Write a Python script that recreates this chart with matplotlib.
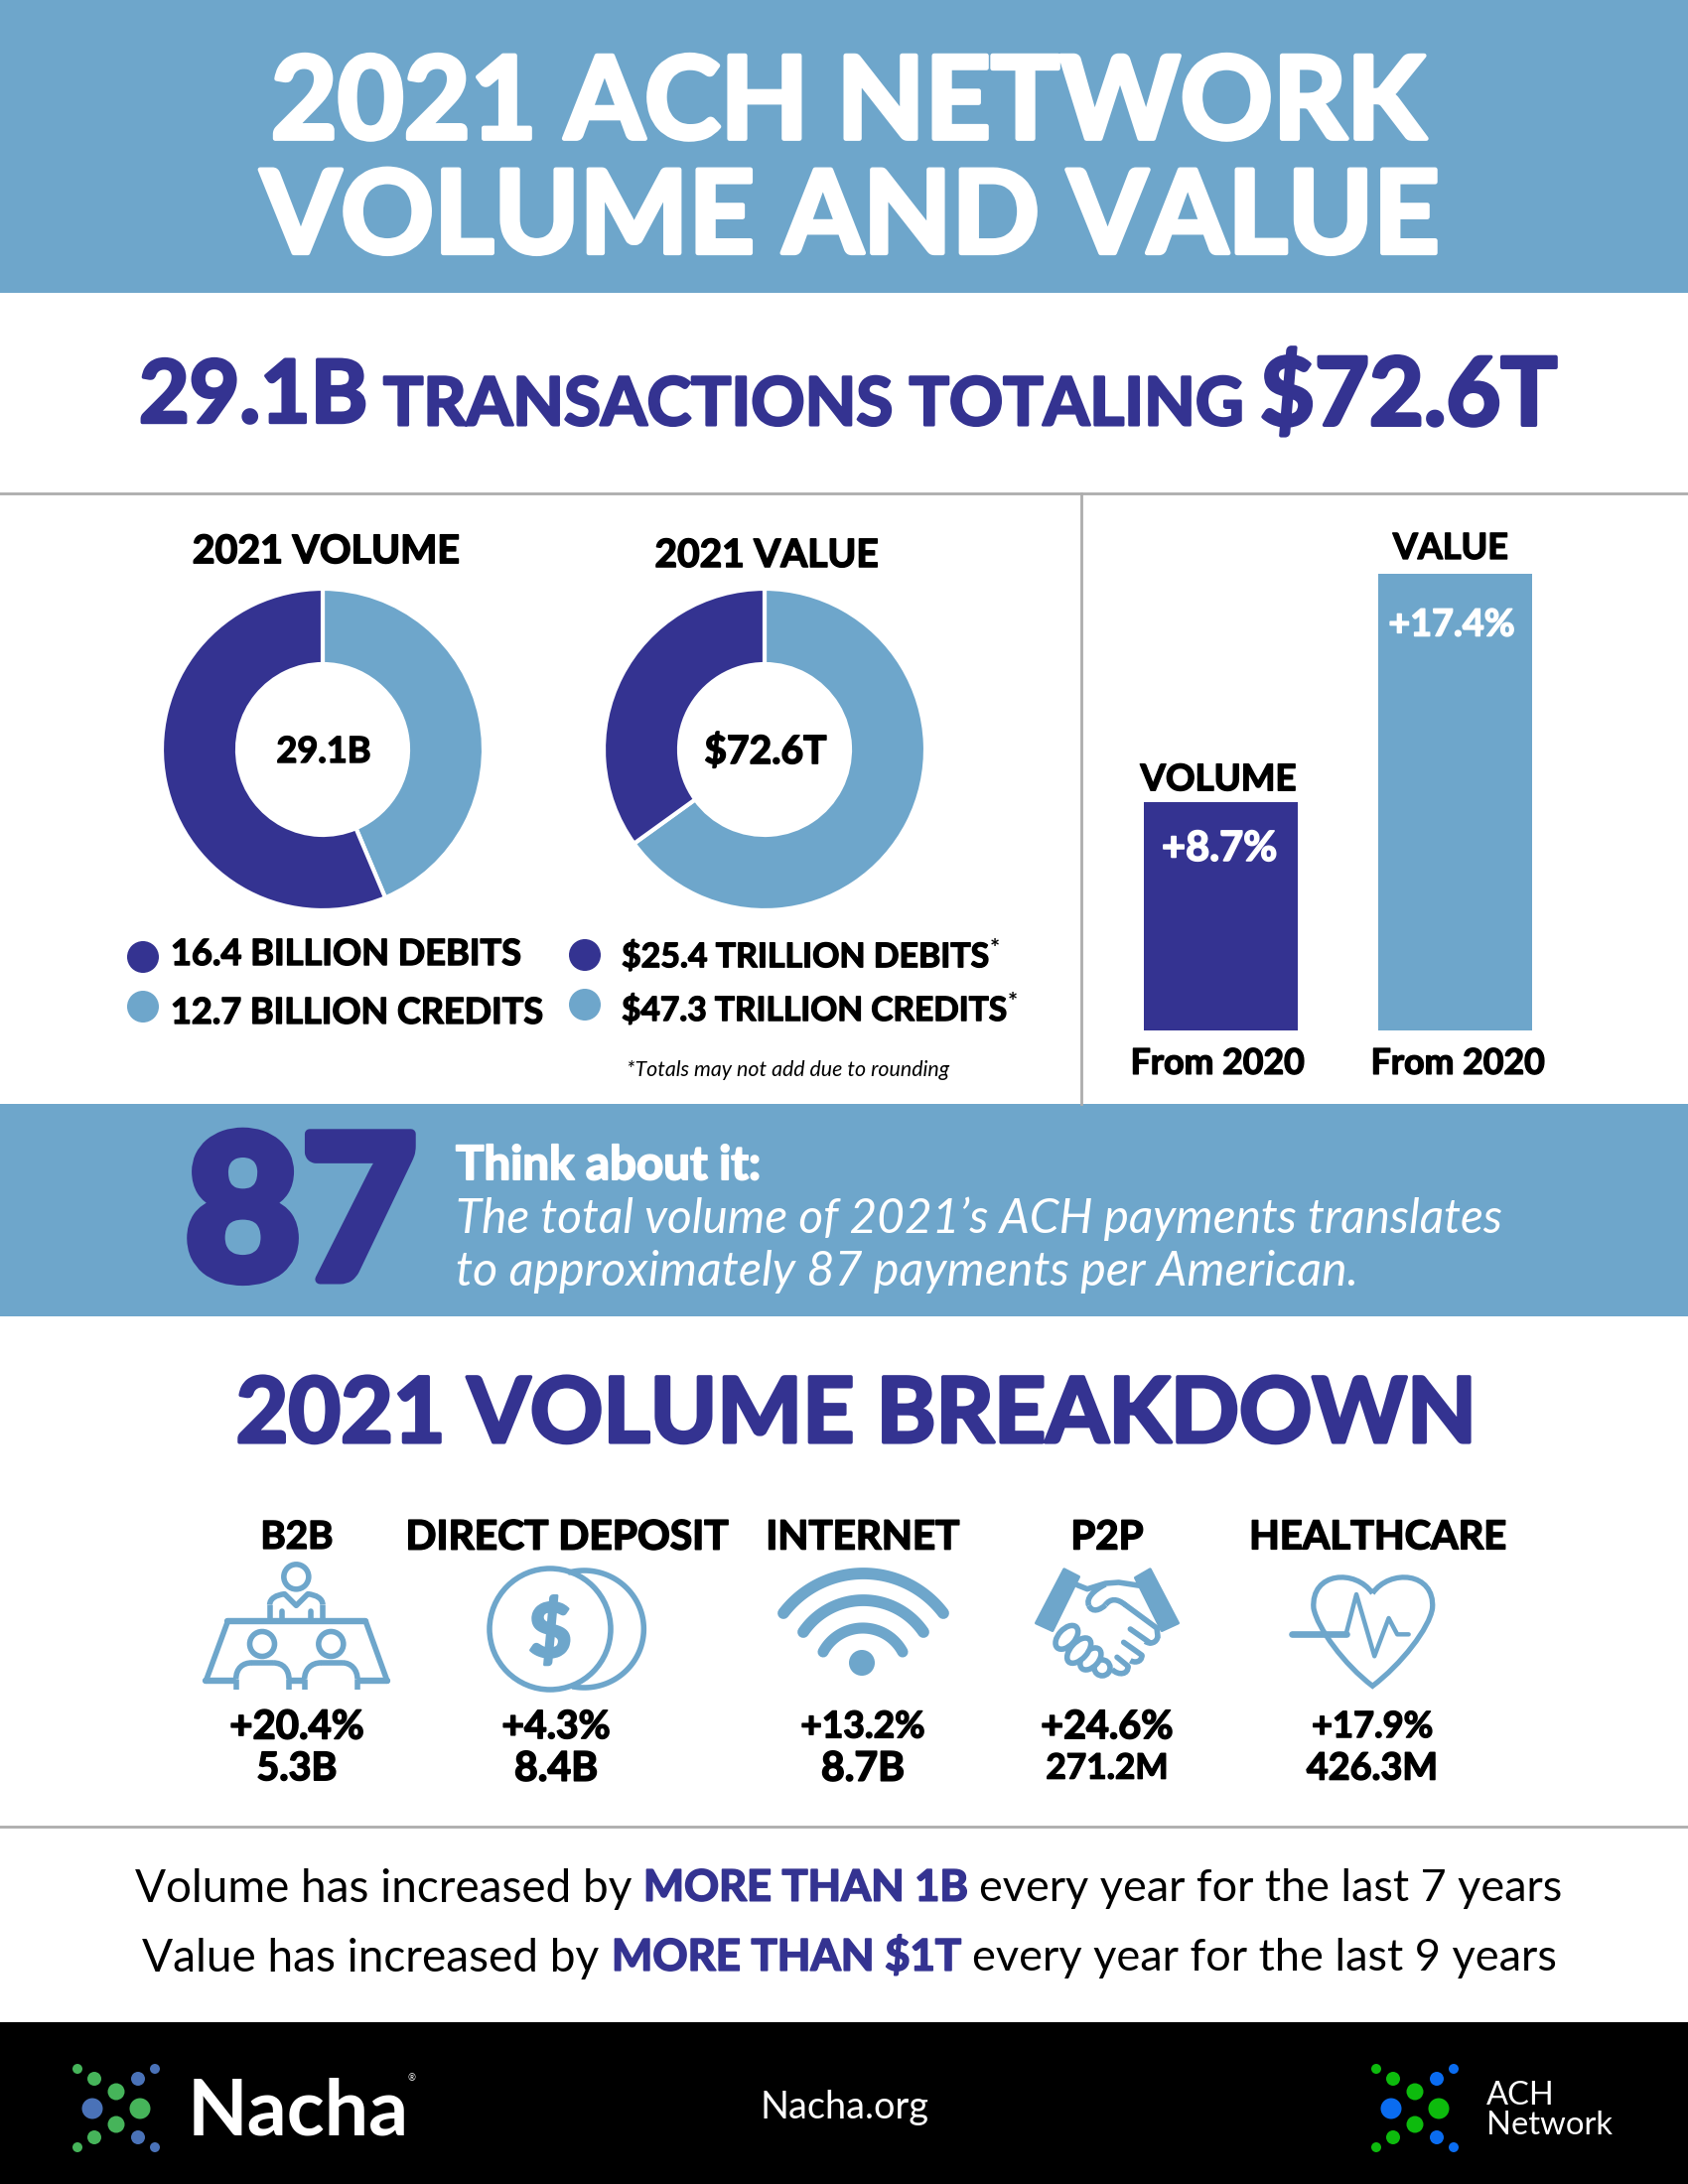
import numpy as np
import matplotlib
matplotlib.use("Agg")
import matplotlib.pyplot as plt
import matplotlib.patheffects as pe
from matplotlib.patches import Rectangle, Ellipse, Polygon, PathPatch
from matplotlib.path import Path

# ---------- data ----------
volume_parts = [12.7, 16.4]      # credits, debits (billion)
value_parts = [47.3, 25.4]       # credits, debits (trillion)
growth_labels = ["VOLUME", "VALUE"]
growth_values = [8.7, 17.4]
breakdown_names = ["B2B", "DIRECT DEPOSIT", "INTERNET", "P2P", "HEALTHCARE"]
breakdown_growth = ["+20.4%", "+4.3%", "+13.2%", "+24.6%", "+17.9%"]
breakdown_totals = ["5.3B", "8.4B", "8.7B", "271.2M", "426.3M"]

BLUE = "#6EA6CB"
NAVY = "#343391"
FONT = "Lato"

fig = plt.figure(figsize=(17, 22), dpi=100, facecolor="white")
ax = fig.add_axes([0, 0, 1, 1], zorder=5)
ax.set_xlim(0, 1700)
ax.set_ylim(2200, 0)
ax.axis("off")
ax.patch.set_alpha(0)
renderer = fig.canvas.get_renderer()


def T(s, x, yc, width, color="black", weight="heavy", ha="center", style="normal", cap=0.72):
    real_weight = "bold" if weight == "heavy" else weight
    t = ax.text(x, yc, s, color=color, fontweight=real_weight, ha=ha, va="baseline",
                fontstyle=style, fontfamily=FONT, fontsize=40)
    w = t.get_window_extent(renderer).width
    fs = 40 * width / w
    t.set_fontsize(fs)
    t.set_y(yc + cap * fs * 100 / 72 / 2)
    if weight == "heavy":
        t.set_path_effects([pe.withStroke(linewidth=fs * 0.04, foreground=color)])
    return t


def pixel_axes(x0, y0, x1, y1):
    return fig.add_axes([x0 / 1700, 1 - y1 / 2200, (x1 - x0) / 1700, (y1 - y0) / 2200])


# ---------- bands ----------
bg = fig.add_axes([0, 0, 1, 1], zorder=0)
bg.set_xlim(0, 1700)
bg.set_ylim(2200, 0)
bg.axis("off")
bg.add_patch(Rectangle((0, 0), 1700, 295, color=BLUE, lw=0))
bg.add_patch(Rectangle((0, 1112), 1700, 214, color=BLUE, lw=0))
bg.add_patch(Rectangle((0, 2037), 1700, 163, color="black", lw=0))
bg.plot([0, 1700], [497, 497], color="#ADADAD", lw=2)
bg.plot([1089, 1089], [497, 1112], color="#ADADAD", lw=2)
bg.plot([0, 1700], [1840, 1840], color="#ADADAD", lw=2)

# ---------- header ----------
T("2021 ACH NETWORK", 854, 98, 1162, "white")
T("VOLUME AND VALUE", 856, 213, 1187, "white")
T("29.1B", 140, 394, 230, NAVY, ha="left")
T("TRANSACTIONS TOTALING", 386, 404, 866, NAVY, ha="left")
T("$72.6T", 1269, 394, 299, NAVY, ha="left")

# ---------- donuts ----------
for (cx, parts, title, tx, ty, tw, center, cw) in [
    (325, volume_parts, "2021 VOLUME", 328, 553, 269, "29.1B", 95),
    (770, value_parts, "2021 VALUE", 772, 557, 225, "$72.6T", 123),
]:
    a = pixel_axes(cx - 162, 755 - 162, cx + 162, 755 + 162)
    a.pie(parts, colors=[BLUE, NAVY], startangle=90, counterclock=False, radius=1,
          wedgeprops=dict(width=76 / 162, edgecolor="white", linewidth=3))
    a.set_xlim(-1, 1)
    a.set_ylim(-1, 1)
    T(title, tx, ty, tw)
    T(center, cx + 1, 755, cw)

# ---------- legends ----------
for (x, y, c) in [(144, 964, NAVY), (144, 1014, BLUE), (589, 962, NAVY), (589, 1012, BLUE)]:
    ax.add_patch(Ellipse((x, y), 32, 32, color=c, lw=0))
T(f"{volume_parts[1]} BILLION DEBITS", 172, 959, 353, ha="left")
T(f"{volume_parts[0]} BILLION CREDITS", 172, 1018, 375, ha="left")
T(f"${value_parts[1]} TRILLION DEBITS", 626, 962, 370, ha="left")
T(f"${value_parts[0]} TRILLION CREDITS", 626, 1016, 388, ha="left")
T("*", 997, 955, 10, ha="left", weight="bold")
T("*", 1015, 1009, 10, ha="left", weight="bold")
T("*Totals may not add due to rounding", 631, 1076, 324, ha="left", weight="normal", style="italic")

# ---------- growth bars ----------
b = pixel_axes(1152, 578, 1543, 1038)
b.bar(range(2), growth_values, width=0.657, color=[NAVY, BLUE])
b.set_xlim(-0.33, 1.33)
b.set_ylim(0, 17.4)
b.axis("off")
T(growth_labels[0], 1227, 783, 157)
T(growth_labels[1], 1461, 550, 116)
T(f"+{growth_values[0]}%", 1228, 852, 116, "white")
T(f"+{growth_values[1]}%", 1462, 627, 127, "white")
T("From 2020", 1226, 1069, 175)
T("From 2020", 1468, 1069, 175)

# ---------- think band ----------
t87 = T("87", 186, 1220, 234, NAVY, weight="black", ha="left", cap=0.68)
t87.set_path_effects([pe.withStroke(linewidth=7, foreground=NAVY)])
T("Think about it:", 459, 1171, 307, "white", ha="left")
T("The total volume of 2021\u2019s ACH payments translates", 459, 1225, 1053, "white",
  ha="left", weight="normal", style="italic")
T("to approximately 87 payments per American.", 459, 1278, 907, "white",
  ha="left", weight="normal", style="italic")

# ---------- breakdown ----------
T("2021 VOLUME BREAKDOWN", 863, 1420, 1249, NAVY)
name_x = [299, 571, 869, 1115, 1388]
name_w = [73, 325, 195, 73, 259]
val_x = [299, 560, 869, 1115, 1382]
growth_w = [135, 109, 125, 133, 122]
total_w = [81, 84, 84, 123, 132]
for i in range(5):
    T(breakdown_names[i], name_x[i], 1546, name_w[i])
    T(breakdown_growth[i], val_x[i], 1737, growth_w[i])
    T(breakdown_totals[i], val_x[i], 1779, total_w[i])


# ---------- icons (crop coordinates at 3x) ----------
def crop(x0, y0):
    return lambda zx, zy: (x0 + zx / 3, y0 + zy / 3)


STROKE = 4.0


def poly(Z, points, lw=STROKE, close=False, cap="round"):
    pts = [Z(*p) for p in points]
    if close:
        pts.append(pts[0])
    xs, ys = zip(*pts)
    ax.plot(xs, ys, color=BLUE, lw=lw, solid_capstyle=cap, solid_joinstyle="round")


def smooth(Z, points, lw=STROKE, cap="butt"):
    pts = [Z(*p) for p in points]
    codes = [Path.MOVETO] + [Path.CURVE4] * (len(pts) - 1)
    ax.add_patch(PathPatch(Path(pts, codes), fc="none", ec=BLUE, lw=lw, capstyle=cap))


def ring(Z, zx, zy, r, lw=STROKE):
    ax.add_patch(Ellipse(Z(zx, zy), 2 * r, 2 * r, fc="white", ec=BLUE, lw=lw))


# B2B table
Z = crop(190, 1560)
ring(Z, 325, 85, 12.5)
poly(Z, [(245, 212), (245, 170)], cap="butt")
smooth(Z, [(245, 170), (245, 150), (265, 140), (290, 137)])
poly(Z, [(290, 137), (325, 172), (360, 137)])
smooth(Z, [(360, 137), (385, 140), (405, 150), (405, 170)])
poly(Z, [(405, 170), (405, 212)], cap="butt")
poly(Z, [(282, 188), (282, 212)])
poly(Z, [(370, 188), (370, 212)])
poly(Z, [(118, 220), (535, 220)], lw=4.6)
poly(Z, [(118, 220), (52, 400)])
poly(Z, [(535, 220), (600, 400)])
poly(Z, [(52, 400), (135, 400)], lw=4.6)
poly(Z, [(515, 400), (600, 400)], lw=4.6)
poly(Z, [(305, 400), (345, 400)], lw=4.6)
ring(Z, 222, 288, 12.5)
ring(Z, 430, 288, 12.5)
poly(Z, [(143, 425), (143, 395)], cap="butt")
smooth(Z, [(143, 395), (143, 360), (165, 345), (190, 345)])
poly(Z, [(190, 345), (255, 345)], cap="butt")
smooth(Z, [(255, 345), (285, 345), (303, 365), (303, 395)])
poly(Z, [(303, 395), (303, 425)], cap="butt")
poly(Z, [(350, 425), (350, 395)], cap="butt")
smooth(Z, [(350, 395), (350, 365), (370, 345), (400, 345)])
poly(Z, [(400, 345), (465, 345)], cap="butt")
smooth(Z, [(465, 345), (490, 345), (510, 365), (510, 395)])
poly(Z, [(510, 395), (510, 425)], cap="butt")

# Coin
Z = crop(480, 1570)
cx0, cy0 = Z(325, 213)
th = np.radians(np.linspace(-103, 99, 80))
ax.plot(cx0 + 60 * np.cos(th), cy0 + 59 * np.sin(th), color=BLUE, lw=STROKE)
ring(Z, 222, 213, 61, lw=STROKE)
t = T("$", 554, 1642, 43, BLUE, weight="black")
t.set_path_effects([pe.withStroke(linewidth=2, foreground=BLUE)])


# Wifi
def arch(x0, x1, ytop, yend, lw):
    half = (x1 - x0) / 2
    sag = yend - ytop
    R = (half ** 2 + sag ** 2) / (2 * sag)
    xc = (x0 + x1) / 2
    a = np.arcsin(half / R)
    ang = np.linspace(-a, a, 80)
    ax.plot(xc + R * np.sin(ang), ytop + R - R * np.cos(ang), color=BLUE, lw=lw, solid_capstyle="round")


arch(789, 950, 1585, 1625, 8.5)
arch(809, 930, 1612, 1644, 8.5)
arch(829, 909, 1640, 1664, 8)
ax.add_patch(Ellipse((868, 1675), 26, 26, color=BLUE, lw=0))

# Handshake
Z = crop(1030, 1560)
for pts in ([(125, 62), (170, 85), (90, 248), (40, 225)], [(385, 62), (340, 88), (420, 248), (470, 225)]):
    ax.add_patch(Polygon([Z(*p) for p in pts], fc=BLUE, ec=BLUE, lw=2, joinstyle="round"))
poly(Z, [(165, 110), (195, 122), (250, 105), (290, 102), (355, 112)])
smooth(Z, [(250, 108), (215, 125), (190, 150), (200, 172)])
smooth(Z, [(200, 172), (210, 195), (235, 185), (250, 170)])
smooth(Z, [(250, 170), (265, 150), (285, 150), (310, 170)])
poly(Z, [(310, 170), (405, 240), (408, 265)])
smooth(Z, [(408, 265), (405, 285), (385, 290), (370, 280)])
poly(Z, [(325, 243), (385, 285)])
poly(Z, [(305, 283), (360, 322)])
smooth(Z, [(360, 322), (360, 345), (335, 345), (325, 338)])
poly(Z, [(285, 328), (318, 355)])
smooth(Z, [(318, 355), (320, 380), (290, 385), (270, 365)])
for (zx, zy, ln, th_) in [(240, 360, 48, 48), (205, 333, 78, 48), (170, 308, 92, 50), (133, 268, 85, 50)]:
    c = Z(zx, zy)
    ax.add_patch(Ellipse(c, ln / 3, th_ / 3, angle=-48, fc="white", ec=BLUE, lw=STROKE))

# Heart
Z = lambda zx, zy: (100 + zx / 1.045, 1480 + zy / 3)
hv = [(1340, 375), (1322, 300), (1275, 310), (1278, 420),
      (1282, 480), (1310, 590), (1340, 655),
      (1370, 590), (1400, 480), (1403, 420),
      (1406, 310), (1358, 300), (1340, 375)]
smooth(Z, hv, lw=3.8)
poly(Z, [(1255, 499), (1312, 499)], lw=4.8)
poly(Z, [(1312, 499), (1323, 378), (1342, 565), (1357, 450), (1366, 499), (1378, 499)], lw=3.2)

# ---------- statements ----------
T("Volume has increased by", 136, 1899, 500, ha="left", weight="normal")
T("MORE THAN 1B", 648, 1899, 327, NAVY, ha="left")
T("every year for the last 7 years", 986, 1899, 588, ha="left", weight="normal")
T("Value has increased by", 143, 1969, 460, ha="left", weight="normal")
T("MORE THAN $1T", 616, 1969, 352, NAVY, ha="left")
T("every year for the last 9 years", 979, 1969, 589, ha="left", weight="normal")


# ---------- footer ----------
def logo(dx, green, blue):
    for (x, y, d) in [(78, 2084, 10), (95, 2094, 14), (117, 2107, 17), (141, 2124, 21),
                      (117, 2140, 17), (95, 2153, 14), (78, 2163, 10)]:
        ax.add_patch(Ellipse((x + dx, y), d, d, color=green, lw=0))
    for (x, y, d) in [(156, 2084, 10), (139, 2094, 14), (93, 2124, 21),
                      (139, 2153, 14), (156, 2163, 10)]:
        ax.add_patch(Ellipse((x + dx, y), d, d, color=blue, lw=0))


logo(0, "#46B45A", "#4A72B8")
logo(1308, "#0DBB0D", "#0A6CF0")
T("Nacha", 189, 2122, 223, "white", ha="left", weight="bold")
T("\u00ae", 411, 2093, 8, "white", ha="left", weight="normal")
T("Nacha.org", 851, 2120, 170, "white", weight="normal")
T("ACH", 1497, 2108, 69, "white", ha="left", weight="normal")
T("Network", 1497, 2138, 127, "white", ha="left", weight="normal")

fig.savefig("out.png", dpi=100, facecolor="white")
